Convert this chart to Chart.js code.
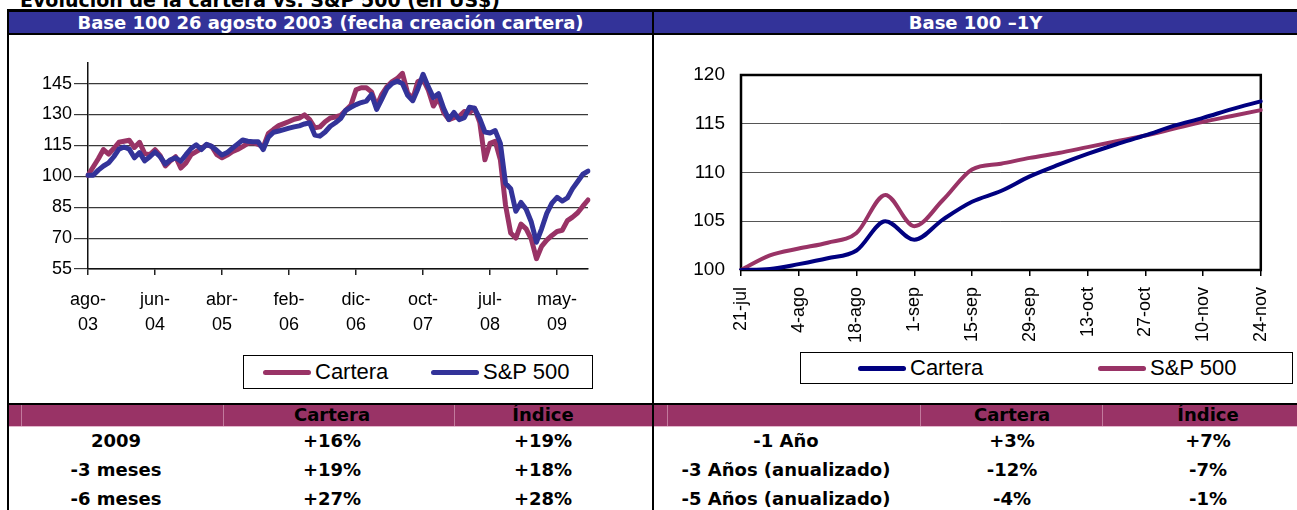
<!DOCTYPE html>
<html>
<head>
<meta charset="utf-8">
<script src="https://cdn.jsdelivr.net/npm/chart.js@4.4.1/dist/chart.umd.min.js"></script>
<style>
  body { margin: 0; width: 1297px; height: 510px; overflow: hidden; position: relative; background: #fff; font-family: "Liberation Sans", Arial, sans-serif; }
  .blk { position: absolute; background: #000; }
  .title { position: absolute; left: 20px; top: -9px; font: bold 19px/19px "DejaVu Sans", Verdana, sans-serif; color: #000; white-space: nowrap; }
  .hdr { position: absolute; top: 12px; height: 21px; background: #333399; color: #fff; font: bold 18px/21px "DejaVu Sans", Verdana, sans-serif; text-align: center; white-space: nowrap; }
  .thead { position: absolute; top: 405px; height: 21px; background: #993366; }
  .sep { position: absolute; top: 405px; height: 21px; width: 1px; background: #c27a9d; }
  .cell { position: absolute; width: 260px; height: 22px; text-align: center; font: bold 18px/22px "DejaVu Sans", Tahoma, sans-serif; color: #000; white-space: nowrap; }
  .box { position: absolute; }
  .legend { position: absolute; border: 1px solid #000; background: #fff; font-size: 22px; display: flex; align-items: center; box-sizing: border-box; }
  .item { display: flex; align-items: center; flex: none; }
  .item i { display: inline-block; width: 48px; height: 5px; border-radius: 3px; margin-right: 4px; }
</style>
</head>
<body>
<div class="title">Evolución de la cartera vs. S&amp;P 500 (en US$)</div>

<div class="hdr" style="left:9px;width:643px;">Base 100 26 agosto 2003 (fecha creación cartera)</div>
<div class="hdr" style="left:654px;width:643px;">Base 100 –1Y</div>

<div class="blk" style="left:7px;top:9px;width:1290px;height:3px;"></div>
<div class="blk" style="left:7px;top:33px;width:1290px;height:2px;"></div>
<div class="blk" style="left:7px;top:403px;width:1290px;height:2px;"></div>

<div class="box" style="left:9px;top:35px;"><canvas id="histChart" width="643" height="368"></canvas></div>
<div class="box" style="left:654px;top:35px;"><canvas id="yearChart" width="643" height="368"></canvas></div>

<div class="legend" id="histLegend" style="left:243px;top:355px;width:350px;height:34px;padding-left:19px;"></div>
<div class="legend" id="yearLegend" style="left:800px;top:352px;width:493px;height:32px;padding-left:57px;"></div>

<div class="thead" style="left:9px;width:1288px;"></div>
<div class="blk" style="left:9px;top:426px;width:1288px;height:1px;background:#e2b8cc;"></div>
<div id="table"></div>

<div class="blk" style="left:7px;top:9px;width:2px;height:501px;"></div>
<div class="blk" style="left:652px;top:9px;width:2px;height:501px;"></div>

<script>
// colores
const PURPLE = "#993366";
const BLUE = "#333399";
const NAVY = "#000080";

// GRÁFICO BASE 100 (ago-03)
const histTickLabels = ["ago-03", "jun-04", "abr-05", "feb-06", "dic-06", "oct-07", "jul-08", "may-09"];
const histStep = 13;
const histYTicks = [55, 70, 85, 100, 115, 130, 145];
const carteraHist = [
  100.5, 104.5, 108.5, 113.0, 110.8, 113.5, 116.5, 117.0, 117.5, 114.0,
  116.5, 111.0, 110.5, 112.9, 110.0, 105.0, 107.5, 109.5, 104.0, 106.5,
  110.5, 112.0, 113.5, 115.3, 114.5, 110.5, 109.0, 110.3, 112.0, 113.0,
  114.4, 116.0, 116.3, 115.5, 114.2, 120.8, 122.8, 124.6, 125.6, 126.6,
  127.7, 128.3, 129.8, 127.5, 123.5, 124.0, 126.5, 128.3, 128.8, 129.5,
  132.0, 134.5, 142.0, 143.0, 143.0, 141.0, 134.1, 139.8, 143.5, 146.0,
  147.5, 150.0, 140.5, 137.6, 146.0, 147.0, 142.0, 134.1, 138.0, 131.0,
  127.5, 128.5, 129.0, 131.5, 131.0, 133.0, 126.2, 108.0, 116.0, 117.0,
  108.0, 86.0, 72.5, 70.0, 76.8, 74.5, 69.5, 60.0, 66.0, 69.0,
  71.3, 73.2, 73.8, 78.5, 80.2, 82.3, 85.5, 88.5
];
const sp500Hist = [
  100.5, 100.5, 103.0, 105.0, 106.5, 109.5, 113.2, 114.2, 113.2, 109.0,
  111.5, 107.5, 109.5, 111.8, 109.5, 106.0, 108.0, 109.0, 107.3, 110.5,
  113.5, 115.3, 113.0, 115.5, 114.5, 112.5, 110.3, 111.5, 113.6, 115.6,
  117.6, 117.0, 116.8, 116.8, 113.0, 119.0, 121.4, 122.0, 122.7, 123.4,
  124.0, 124.5, 125.4, 126.0, 120.0, 119.5, 121.5, 124.3, 126.0, 128.0,
  132.0, 133.5, 134.8, 135.8, 136.5, 139.7, 132.5, 137.5, 142.7, 145.1,
  146.3, 145.0, 139.3, 136.7, 142.5, 149.5, 143.5, 138.2, 140.1, 133.0,
  127.6, 131.0, 127.5, 128.5, 133.5, 133.0, 128.0, 121.5, 121.0, 122.2,
  116.0, 96.6, 94.0, 83.0, 87.3, 84.0, 77.8, 68.0, 74.5, 82.0,
  87.0, 89.8, 88.0, 89.5, 94.0, 97.5, 101.0, 102.5
];
const histCategories = carteraHist.map((v, i) =>
  i % histStep === 0 && histTickLabels[i / histStep] ? histTickLabels[i / histStep] : "");

// GRÁFICO BASE 100 -1Y
const yearDates = ["21-jul", "28-jul", "4-ago", "11-ago", "18-ago", "25-ago", "1-sep", "8-sep", "15-sep", "22-sep",
  "29-sep", "6-oct", "13-oct", "20-oct", "27-oct", "3-nov", "10-nov", "17-nov", "24-nov"];
const carteraYear = [100.0, 100.1, 100.6, 101.2, 102.0, 105.0, 103.1, 105.2, 107.0, 108.1,
  109.6, 110.8, 111.9, 112.9, 113.8, 114.8, 115.6, 116.5, 117.3];
const sp500Year = [100.0, 101.5, 102.2, 102.8, 103.8, 107.7, 104.5, 107.2, 110.3, 110.9,
  111.5, 112.0, 112.6, 113.2, 113.8, 114.5, 115.2, 115.8, 116.4];

// TABLA
const tableHeads = ["Cartera", "Índice"];
const periodsLeft = ["2009", "-3 meses", "-6 meses"];
const carteraLeft = ["+16%", "+19%", "+27%"];
const indiceLeft = ["+19%", "+18%", "+28%"];
const periodsRight = ["-1 Año", "-3 Años (anualizado)", "-5 Años (anualizado)"];
const carteraRight = ["+3%", "-12%", "-4%"];
const indiceRight = ["+7%", "-7%", "-1%"];

const axisFont = { family: "'Liberation Sans', Arial, sans-serif", size: 18, lineHeight: 1.4 };

const frame = {
  id: "frame",
  beforeDatasetsDraw(chart) {
    if (!chart.options.plugins.frame) return;
    const a = chart.chartArea, c = chart.ctx;
    c.save();
    c.strokeStyle = "#000";
    c.lineWidth = 2.5;
    c.strokeRect(a.left, a.top, a.right - a.left, a.bottom - a.top);
    c.restore();
  }
};

const histChart = new Chart(document.getElementById("histChart"), {
  type: "line",
  data: {
    labels: histCategories,
    datasets: [
      { label: "Cartera", data: carteraHist, borderColor: PURPLE, backgroundColor: PURPLE, order: 1 },
      { label: "S&P 500", data: sp500Hist, borderColor: BLUE, backgroundColor: BLUE, order: 0 }
    ]
  },
  options: {
    responsive: false,
    animation: false,
    layout: { padding: { top: 28, right: 64, left: 0, bottom: 0 } },
    elements: {
      point: { radius: 0 },
      line: { borderWidth: 5, tension: 0, borderJoinStyle: "round", borderCapStyle: "round" }
    },
    plugins: { legend: { display: false }, tooltip: { enabled: false } },
    scales: {
      x: {
        grid: { drawOnChartArea: false, tickLength: 6, color: "#222", lineWidth: 1.5 },
        border: { color: "#111", width: 1.5 },
        ticks: {
          autoSkip: false, maxRotation: 0, minRotation: 0, padding: 12, color: "#000", font: axisFont,
          callback: function (value) {
            const lab = this.getLabelForValue(value);
            if (!lab) return null;
            const k = lab.indexOf("-") + 1;
            return [lab.slice(0, k), lab.slice(k)];
          }
        },
        afterFit: s => { s.height = 134; }
      },
      y: {
        min: 55, max: 155,
        grid: { color: "#3a3a3a", lineWidth: 1.2, tickLength: 14 },
        border: { color: "#111", width: 1.5 },
        ticks: { padding: 2, color: "#000", font: axisFont },
        afterBuildTicks: s => { s.ticks = histYTicks.map(v => ({ value: v })); },
        afterFit: s => { s.width = 79; }
      }
    }
  }
});

const yearChart = new Chart(document.getElementById("yearChart"), {
  type: "line",
  plugins: [frame],
  data: {
    labels: yearDates,
    datasets: [
      { label: "Cartera", data: carteraYear, borderColor: NAVY, backgroundColor: NAVY },
      { label: "S&P 500", data: sp500Year, borderColor: PURPLE, backgroundColor: PURPLE }
    ]
  },
  options: {
    responsive: false,
    animation: false,
    layout: { padding: { top: 40, right: 28, left: 0, bottom: 0 } },
    elements: {
      point: { radius: 0 },
      line: { borderWidth: 4, cubicInterpolationMode: "monotone", borderCapStyle: "round" }
    },
    plugins: { legend: { display: false }, tooltip: { enabled: false }, frame: true },
    scales: {
      x: {
        grid: { drawOnChartArea: false, tickLength: 6, color: "#000", lineWidth: 1.5 },
        border: { display: false },
        ticks: {
          autoSkip: false, maxRotation: 90, minRotation: 90, padding: 11, color: "#000", font: axisFont,
          callback: function (value, index) { return index % 2 === 0 ? this.getLabelForValue(value) : null; }
        },
        afterFit: s => { s.height = 133; }
      },
      y: {
        min: 100, max: 120,
        grid: { color: "#555", lineWidth: 1, drawTicks: false },
        border: { display: false },
        ticks: { stepSize: 5, padding: 16, color: "#000", font: { family: axisFont.family, size: 19 } },
        afterFit: s => { s.width = 87; }
      }
    }
  }
});

// LEYENDAS
function buildLegend(el, chart, itemWidth) {
  chart.data.datasets.forEach(ds => {
    const it = document.createElement("span");
    it.className = "item";
    it.style.width = itemWidth + "px";
    const mark = document.createElement("i");
    mark.style.background = ds.borderColor;
    it.appendChild(mark);
    it.appendChild(document.createTextNode(ds.label));
    el.appendChild(it);
  });
}
buildLegend(document.getElementById("histLegend"), histChart, 168);
buildLegend(document.getElementById("yearLegend"), yearChart, 240);

// TABLA RENTABILIDADES
const table = document.getElementById("table");
function cell(text, cx, cy) {
  const d = document.createElement("div");
  d.className = "cell";
  d.style.left = (cx - 130) + "px";
  d.style.top = (cy - 11) + "px";
  d.textContent = text;
  table.appendChild(d);
}
[21, 223, 454, 667, 920, 1102].forEach(x => {
  const s = document.createElement("div");
  s.className = "sep";
  s.style.left = x + "px";
  table.appendChild(s);
});
const rowY = [441, 470, 499];
cell(tableHeads[0], 332, 415); cell(tableHeads[1], 543, 415);
cell(tableHeads[0], 1012, 415); cell(tableHeads[1], 1208, 415);
rowY.forEach((y, r) => {
  cell(periodsLeft[r], 116, y);
  cell(carteraLeft[r], 332, y);
  cell(indiceLeft[r], 543, y);
  cell(periodsRight[r], 786, y);
  cell(carteraRight[r], 1012, y);
  cell(indiceRight[r], 1208, y);
});
</script>
</body>
</html>
